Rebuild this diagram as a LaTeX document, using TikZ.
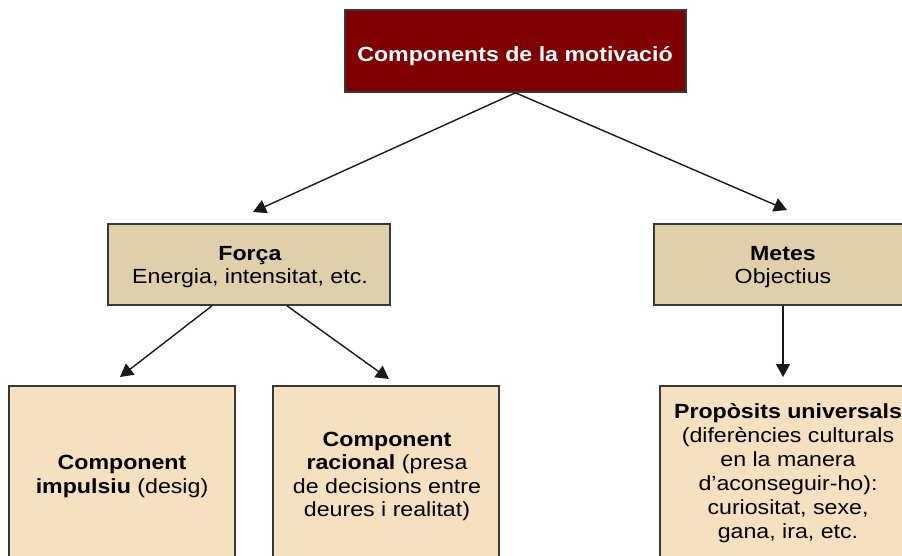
\documentclass[tikz,border=0pt]{standalone}
\usepackage{fontspec}
\setmainfont[FakeStretch=1.13]{Liberation Sans}
\usetikzlibrary{arrows.meta}
\definecolor{topred}{HTML}{800000}
\definecolor{midtan}{HTML}{E0CFAB}
\definecolor{lowtan}{HTML}{F5E0C0}
\definecolor{edge}{HTML}{383838}
\begin{document}
\begin{tikzpicture}[x=1pt,y=-1pt,
  box/.style={draw=edge, line width=1.6pt, rectangle, inner sep=0pt},
  midbox/.style={box, fill=midtan, minimum height=81pt},
  lowbox/.style={box, fill=lowtan, minimum width=226pt, minimum height=214pt},
  txt/.style={inner sep=0pt, align=center, anchor=north, text=black},
  conn/.style={line width=1.4pt, draw=black!90, -{Triangle[length=13pt,width=14pt]}},
]
\useasboundingbox (0,0) rectangle (902,555);
\clip (0,0) rectangle (902,555);
% boxes
\node[box, fill=topred, minimum width=341pt, minimum height=82pt] (top) at (515.5,51) {};
\node[midbox, minimum width=282pt] (forca) at (249,264.5) {};
\node[midbox, minimum width=258pt] (metes) at (783,264.5) {};
\node[lowbox] (impulsiu) at (122,493) {};
\node[lowbox] (racional) at (386,493) {};
\node[lowbox, minimum width=252pt] (proposits) at (786,493) {};
% texts
\node[anchor=base, inner sep=0pt, text=white, font=\bfseries\fontsize{20.5}{23}\selectfont] (toptxt) at (515,61) {Components de la motivació};
\node[txt, font=\fontsize{20.5}{23}\selectfont] (forcatxt) at (250,243.9) {\strut\textbf{Força}\\Energia, intensitat, etc.};
\node[txt, font=\fontsize{20.5}{23}\selectfont] (metestxt) at (783,243.9) {\strut\textbf{Metes}\\Objectius};
\node[txt, font=\fontsize{20.5}{24}\selectfont] (impulsiutxt) at (122,452.2) {\strut\textbf{Component}\\\textbf{impulsiu} (desig)};
\node[txt, font=\fontsize{20.5}{23.5}\selectfont] (racionaltxt) at (387,429.55) {\strut\textbf{Component}\\\textbf{racional} (presa\\de decisions entre\\deures i realitat)};
\node[txt, font=\fontsize{20.5}{24}\selectfont] (propositstxt) at (788,401.2) {\strut\textbf{Propòsits universals}\\(diferències culturals\\en la manera\\d’aconseguir-ho):\\curiositat, sexe,\\gana, ira, etc.};
% connectors
\coordinate (a1) at (253,212);
\coordinate (a2) at (787,210);
\coordinate (b1) at (120,377);
\coordinate (b2) at (389,379);
\coordinate (c1) at (783,377);
\draw[conn] (top.south) -- (a1);
\draw[conn] (top.south) -- (a2);
\draw[conn] ([xshift=-37pt]forca.south) -- (b1);
\draw[conn] ([xshift=38pt]forca.south) -- (b2);
\draw[conn] (metes.south) -- (c1);
\end{tikzpicture}
\end{document}
